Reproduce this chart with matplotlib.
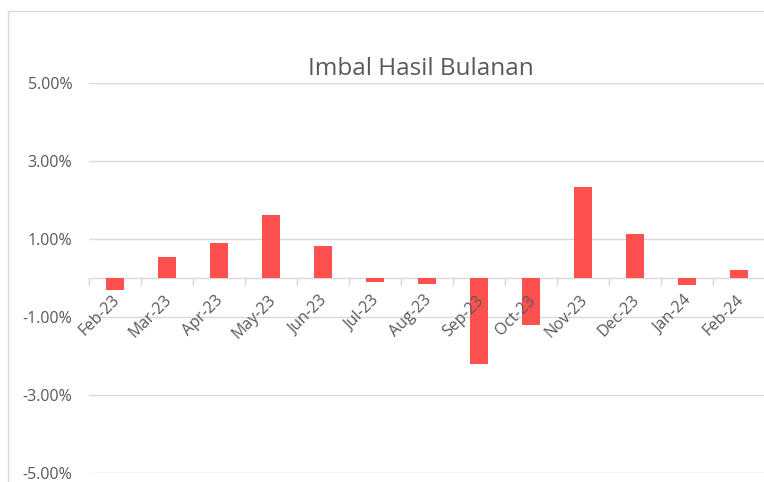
import matplotlib
matplotlib.use("Agg")
import matplotlib.pyplot as plt
from matplotlib.lines import Line2D
from matplotlib.ticker import FuncFormatter, FixedLocator
from matplotlib.transforms import offset_copy
import numpy as np

categories = ["Feb-23", "Mar-23", "Apr-23", "May-23", "Jun-23", "Jul-23", "Aug-23",
              "Sep-23", "Oct-23", "Nov-23", "Dec-23", "Jan-24", "Feb-24"]
returns_pct = [-0.31, 0.53, 0.91, 1.62, 0.82, -0.09, -0.15,
               -2.21, -1.21, 2.34, 1.12, -0.19, 0.21]
y_ticks = [-5, -3, -1, 1, 3, 5]
title = "Imbal Hasil Bulanan"

W, H = 764, 482
fig = plt.figure(figsize=(W / 100, H / 100), dpi=100)
fig.patch.set_facecolor("white")

left, right, top, bottom = 89, 765, 83, 473
ax = fig.add_axes([left / W, 1 - bottom / H, (right - left) / W, (bottom - top) / H])

x = np.arange(len(categories))
ax.bar(x, returns_pct, width=0.35, color="#FF5050", zorder=3)

ax.set_xlim(-0.5, len(categories) - 0.5)
ax.set_ylim(-5, 5)
ax.set_yticks(y_ticks)
ax.yaxis.set_major_formatter(FuncFormatter(lambda v, p: f"{v:.2f}%"))
ax.grid(axis="y", color="#d9d9d9", linewidth=1.0, zorder=0)
ax.tick_params(axis="y", length=0, pad=12, labelsize=11.5, labelcolor="#595959")
for lab in ax.get_yticklabels():
    lab.set_fontfamily("Open Sans")

for s in ["top", "right", "left"]:
    ax.spines[s].set_visible(False)
ax.spines["bottom"].set_position(("data", 0))
ax.spines["bottom"].set_color("#d9d9d9")
ax.spines["bottom"].set_linewidth(1.0)
ax.spines["bottom"].set_zorder(2)

ax.set_xticks(x)
ax.set_xticklabels([])
ax.tick_params(axis="x", which="major", length=0)
ax.xaxis.set_minor_locator(FixedLocator(np.arange(-0.5, len(categories), 1.0)))
ax.tick_params(axis="x", which="minor", length=5, color="#d9d9d9", width=1.0)

# rotated category labels anchored under the zero axis
for xi, lab in zip(x, categories):
    t = offset_copy(ax.transData, fig=fig, x=2, y=-20, units="dots")
    ax.text(xi, 0, lab, transform=t, rotation=45, ha="right", va="center",
            rotation_mode="anchor", fontsize=11.5, color="#595959",
            fontfamily="Open Sans")

fig.text(421 / W, 1 - 75 / H, title, ha="center", va="baseline", fontsize=17.5,
         color="#595959", fontfamily="Open Sans")

# chart area border fragments
fig.add_artist(Line2D([8 / W, 8 / W], [0, 1 - 11 / H], transform=fig.transFigure,
                      color="#d9d9d9", linewidth=1.0))
fig.add_artist(Line2D([8 / W, 1], [1 - 11 / H, 1 - 11 / H], transform=fig.transFigure,
                      color="#d9d9d9", linewidth=1.0))

fig.savefig("out.png", dpi=100, facecolor="white")
